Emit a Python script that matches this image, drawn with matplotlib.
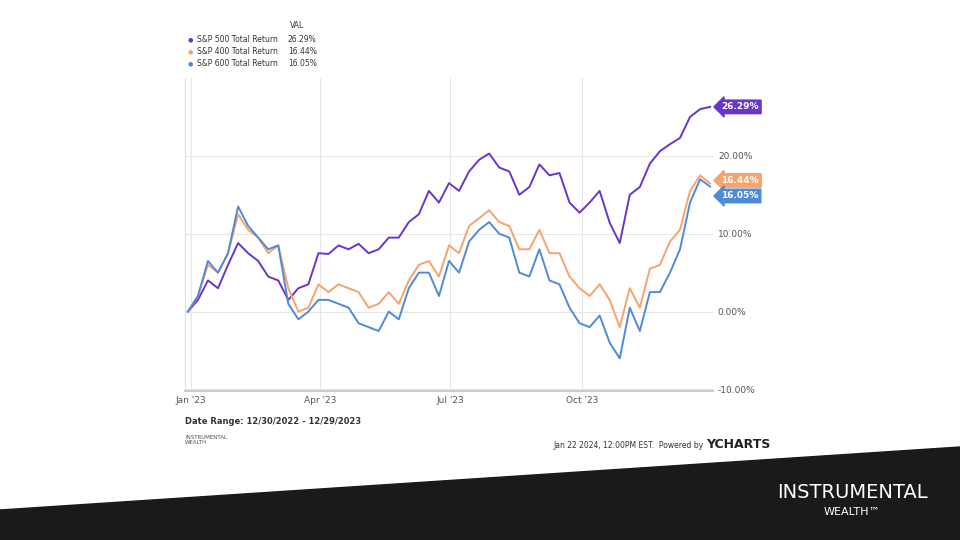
import matplotlib
matplotlib.use("Agg")
import matplotlib.pyplot as plt
import pandas as pd
from matplotlib.patches import Polygon

dates = pd.date_range("2022-12-30", "2023-12-29", freq="W-FRI")
sp500 = [0,1.5,4,3,6,8.8,7.5,6.5,4.5,4,1.5,3,3.5,7.5,7.4,8.5,8,8.7,7.5,8,9.5,9.5,11.5,12.5,15.5,14,16.5,
         15.5,18,19.5,20.3,18.5,18,15,16,18.9,17.5,17.8,14,12.7,14,15.5,11.4,8.8,15,16,19,20.6,21.5,22.3,25,26,26.29]
sp400 = [0,2,6,5,7.5,12.5,10.5,9.5,7.5,8.5,3,0,0.5,3.5,2.5,3.5,3,2.5,0.5,1,2.5,1,4,6,6.5,4.5,8.5,
         7.5,11,12,13,11.5,11,8,8,10.5,7.5,7.5,4.5,3,2,3.5,1.5,-2,3,0.5,5.5,6,9,10.5,15.5,17.5,16.44]
sp600 = [0,2,6.5,5,7.5,13.5,11,9.5,8,8.5,1,-1,0,1.5,1.5,1,0.5,-1.5,-2,-2.5,0,-1,3,5,5,2,6.5,
         5,9,10.5,11.5,10,9.5,5,4.5,8,4,3.5,0.5,-1.5,-2,-0.5,-4,-6,0.5,-2.5,2.5,2.5,5,8,14,17,16.05]
names = ["S&P 500 Total Return", "S&P 400 Total Return", "S&P 600 Total Return"]
colors = ["#6a35c9", "#f9a26c", "#4f8ad9"]
series = [sp500, sp400, sp600]

fig = plt.figure(figsize=(9.6, 5.4), dpi=100)
fig.patches.append(Polygon([[0, 30/540], [1, 93/540], [1, 0], [0, 0]], closed=True,
                           transform=fig.transFigure, color="#1a1a1a", zorder=0))
ax = fig.add_axes([185/960, 1-391/540, 528/960, 313/540])
for s, c in zip(series, colors):
    ax.plot(dates, s, color=c, lw=1.4)
ax.set_ylim(-10.2, 30)
ax.set_xlim(pd.Timestamp("2022-12-28"), pd.Timestamp("2023-12-31"))
ax.yaxis.tick_right()
ax.set_yticks([-10, 0, 10, 20])
ax.set_yticklabels(["-10.00%", "0.00%", "10.00%", "20.00%"])
ax.set_xticks(pd.to_datetime(["2023-01-01", "2023-04-01", "2023-07-01", "2023-10-01"]))
ax.set_xticklabels(["Jan '23", "Apr '23", "Jul '23", "Oct '23"])
ax.tick_params(length=0, labelsize=6.5, colors="#555555")
ax.grid(color="#e6e6e6", lw=0.8)
for sp in ["top", "right"]:
    ax.spines[sp].set_visible(False)
ax.spines["left"].set_color("#dddddd")
ax.spines["bottom"].set_color("#cccccc")
ax.spines["bottom"].set_linewidth(1.5)

offs = [0, 0.4, -1.2]
for s, c, o in zip(series, colors, offs):
    ax.annotate(f"{s[-1]:.2f}%", xy=(1.0, s[-1] + o), xycoords=("axes fraction", "data"),
                xytext=(6, 0), textcoords="offset points", va="center", ha="left",
                fontsize=6.5, color="white", fontweight="bold",
                bbox=dict(boxstyle="larrow,pad=0.25", fc=c, ec=c), annotation_clip=False)

fig.text(290/960, 1-28/540, "VAL", fontsize=5.5, color="#333333")
for i, (n, c, s) in enumerate(zip(names, colors, series)):
    y = 1 - (40 + 12*i)/540
    fig.text(188/960, y, "●", fontsize=4.5, color=c, va="center")
    fig.text(197/960, y, n, fontsize=5.5, color="#333333", va="center")
    fig.text(288/960, y, f"{s[-1]:.2f}%", fontsize=5.5, color="#333333", va="center")

fig.text(185/960, 1-421/540, "Date Range: 12/30/2022 - 12/29/2023", fontsize=6,
         fontweight="bold", color="#333333", va="center")
fig.text(185/960, 1-440/540, "INSTRUMENTAL\nWEALTH", fontsize=4, color="#555555", va="center")
fig.text(704/960, 1-445/540, "Jan 22 2024, 12:00PM EST.  Powered by", fontsize=5.5,
         color="#333333", va="center", ha="right")
fig.text(706/960, 1-445/540, "YCHARTS", fontsize=9, fontweight="bold", color="#222222", va="center")
fig.text(852/960, 1-492/540, "INSTRUMENTAL", fontsize=14, color="white", ha="center", va="center")
fig.text(852/960, 1-512/540, "WEALTH™", fontsize=8, color="white", ha="center", va="center")
fig.savefig("out.png", dpi=100)
